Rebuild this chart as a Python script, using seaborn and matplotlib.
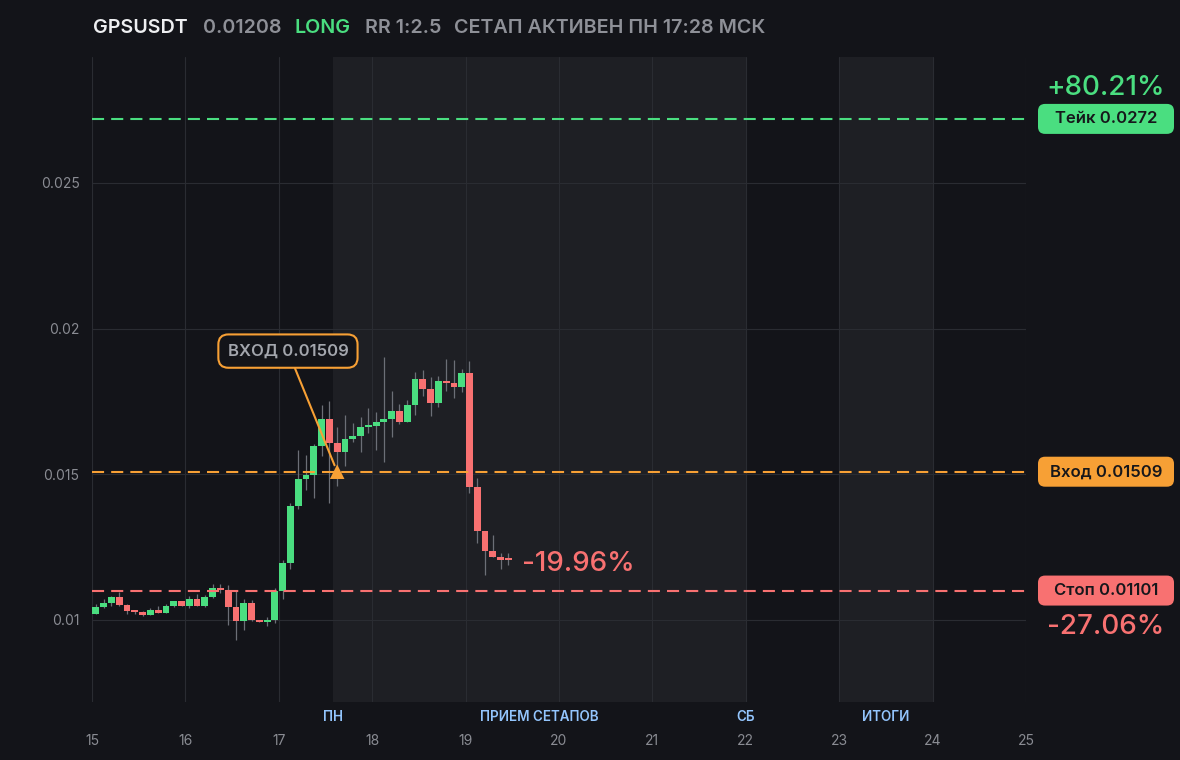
import numpy as np
import pandas as pd
import matplotlib
matplotlib.use("Agg")
import matplotlib.pyplot as plt
import matplotlib.transforms as mtransforms
from matplotlib.patches import FancyBboxPatch
import seaborn as sns

# --- Data ---
TICKER = "GPSUSDT"
LAST_PRICE = "0.01208"
SIDE = "LONG"
RR_TEXT = "RR 1:2.5"
SETUP_NOTE = "СЕТАП АКТИВЕН ПН 17:28 МСК"

START_DAY = 15
CANDLE_DAYS = 1 / 12  # 2h candles

opens = [0.01021, 0.01045, 0.01060, 0.01079, 0.01053, 0.01031, 0.01027, 0.01017, 0.01034, 0.01024,
         0.01048, 0.01065, 0.01048, 0.01072, 0.01048, 0.01079, 0.01110, 0.01103, 0.01045, 0.00997,
         0.01058, 0.01000, 0.00993, 0.01000, 0.01100, 0.01194, 0.01392, 0.01485, 0.01499, 0.01596,
         0.01691, 0.01606, 0.01578, 0.01622, 0.01632, 0.01663, 0.01667, 0.01680, 0.01691, 0.01718,
         0.01681, 0.01738, 0.01828, 0.01794, 0.01745, 0.01820, 0.01814, 0.01800, 0.01848, 0.01458,
         0.01307, 0.01238, 0.01217, 0.01212]
highs = [0.01056, 0.01072, 0.01082, 0.01097, 0.01055, 0.01034, 0.01031, 0.01041, 0.01048, 0.01055,
         0.01065, 0.01065, 0.01082, 0.01089, 0.01086, 0.01124, 0.01124, 0.01120, 0.01103, 0.01072,
         0.01069, 0.01000, 0.01010, 0.01111, 0.01206, 0.01403, 0.01582, 0.01565, 0.01605, 0.01737,
         0.01752, 0.01663, 0.01705, 0.01677, 0.01698, 0.01728, 0.01715, 0.01903, 0.01786, 0.01742,
         0.01755, 0.01851, 0.01858, 0.01834, 0.01838, 0.01896, 0.01893, 0.01862, 0.01889, 0.01489,
         0.01307, 0.01293, 0.01231, 0.01231]
lows = [0.01021, 0.01042, 0.01049, 0.01049, 0.01022, 0.01020, 0.01012, 0.01017, 0.01024, 0.01024,
        0.01045, 0.01048, 0.01042, 0.01048, 0.01043, 0.01075, 0.01094, 0.00983, 0.00931, 0.00966,
        0.00997, 0.00993, 0.00979, 0.00990, 0.01073, 0.01176, 0.01380, 0.01445, 0.01420, 0.01563,
        0.01403, 0.01461, 0.01530, 0.01610, 0.01575, 0.01643, 0.01582, 0.01543, 0.01628, 0.01673,
        0.01681, 0.01704, 0.01769, 0.01701, 0.01731, 0.01786, 0.01762, 0.01783, 0.01437, 0.01265,
        0.01155, 0.01215, 0.01176, 0.01190]
closes = [0.01045, 0.01060, 0.01079, 0.01053, 0.01031, 0.01027, 0.01017, 0.01034, 0.01024, 0.01048,
          0.01065, 0.01048, 0.01072, 0.01048, 0.01079, 0.01110, 0.01103, 0.01045, 0.00997, 0.01058,
          0.01000, 0.00993, 0.01000, 0.01100, 0.01194, 0.01392, 0.01485, 0.01499, 0.01596, 0.01691,
          0.01606, 0.01578, 0.01622, 0.01632, 0.01663, 0.01667, 0.01680, 0.01691, 0.01718, 0.01681,
          0.01738, 0.01828, 0.01794, 0.01745, 0.01820, 0.01814, 0.01800, 0.01848, 0.01458, 0.01307,
          0.01238, 0.01217, 0.01207, 0.01205]

take_price = 0.0272
entry_price = 0.01509
stop_price = 0.01101
take_label = "Тейк 0.0272"
entry_label = "Вход 0.01509"
stop_label = "Стоп 0.01101"
take_pct = "+80.21%"
stop_pct = "-27.06%"
now_pct = "-19.96%"
entry_note = "ВХОД 0.01509"
entry_time = 17.625

band_spans = [(17.583, 22.0), (23.0, 24.0)]
session_labels = ["ПН", "ПРИЕМ СЕТАПОВ", "СБ", "ИТОГИ"]
session_x = [17.583, 19.79, 22.0, 23.5]

x_ticks = list(range(15, 26))
y_ticks = [0.01, 0.015, 0.02, 0.025]
y_tick_labels = ["0.01", "0.015", "0.02", "0.025"]

# --- Colours ---
BG = "#131419"
BAND = "#1e1f24"
GRID = "#2a2c32"
GREEN = "#4ade80"
RED = "#f87171"
ORANGE = "#f7a035"
GREY = "#8e9097"
TICK = "#8a8c93"
BLUE = "#93c5fd"

sns.set_theme(style="darkgrid", rc={
    "axes.facecolor": BG,
    "figure.facecolor": BG,
    "grid.color": GRID,
    "grid.linewidth": 0.8,
    "xtick.color": TICK,
    "ytick.color": TICK,
})
plt.rcParams["font.family"] = ["Inter", "DejaVu Sans"]

df = pd.DataFrame({"open": opens, "high": highs, "low": lows, "close": closes})
df["time"] = START_DAY + (df.index + 0.5) * CANDLE_DAYS
df["up"] = df["close"] >= df["open"]

W, H = 1180, 760
fig = plt.figure(figsize=(W / 100, H / 100), dpi=100)
ax = fig.add_axes([92 / W, 58 / H, 934 / W, 645 / H])
ax.set_xlim(15, 25)
ax.set_ylim(0.007185, 0.029325)

for a, b in band_spans:
    ax.axvspan(a, b, color=BAND, zorder=0, lw=0)

# wicks and bodies
ax.vlines(df["time"], df["low"], df["high"], color="#6c6f77", lw=0.9, zorder=2)
body_bottom = df[["open", "close"]].min(axis=1)
body_height = (df["close"] - df["open"]).abs().clip(lower=0.00006)
ax.bar(df["time"], body_height, bottom=body_bottom, width=CANDLE_DAYS * 0.88,
       color=np.where(df["up"], GREEN, RED), lw=0, zorder=3)

# levels
dash = (0, (5.8, 3.4))
ax.axhline(take_price, color=GREEN, lw=1.5, ls=dash, zorder=4)
ax.axhline(entry_price, color=ORANGE, lw=1.5, ls=dash, zorder=4)
ax.axhline(stop_price, color=RED, lw=1.5, ls=dash, zorder=4)

# entry marker + callout
sns.scatterplot(x=[entry_time], y=[entry_price], marker="^", s=110, color=ORANGE,
                edgecolor="none", zorder=6, ax=ax, legend=False)
ax.annotate(entry_note, xy=(entry_time, entry_price), xytext=(17.098, 0.01923),
            ha="center", va="center", fontsize=12, fontweight="semibold", color="#a3a6ad",
            bbox=dict(boxstyle="round,pad=0.55,rounding_size=0.6", fc=BG, ec=ORANGE, lw=1.5),
            arrowprops=dict(arrowstyle="-", color=ORANGE, lw=1.5, shrinkA=0, shrinkB=5),
            zorder=7)

# current move vs entry, next to the last candle
ax.annotate(now_pct, xy=(19.60, closes[-1]), xytext=(0, -3), textcoords="offset points",
            color=RED, fontsize=20, fontweight="medium", ha="left", va="center", zorder=7)

# axes cosmetics
ax.set_xticks(x_ticks)
ax.set_xticklabels([str(t) for t in x_ticks])
ax.set_yticks(y_ticks)
ax.set_yticklabels(y_tick_labels)
ax.tick_params(axis="x", length=0, pad=23, labelsize=10, labelcolor=TICK)
ax.tick_params(axis="y", length=0, pad=9, labelsize=10, labelcolor=TICK)
ax.grid(True, color=GRID, lw=0.8)
ax.set_axisbelow(True)
for s in ax.spines.values():
    s.set_visible(False)

blend = mtransforms.blended_transform_factory(ax.transData, ax.transAxes)
for lab, xv in zip(session_labels, session_x):
    ax.text(xv, -0.024, lab, transform=blend, ha="center", va="center",
            color=BLUE, fontsize=9.7, fontweight="semibold", clip_on=False)

# title row
title_parts = [(TICKER, "#eeeff1", 93), (LAST_PRICE, GREY, 203), (SIDE, GREEN, 294),
               (RR_TEXT, GREY, 365), (SETUP_NOTE, GREY, 454)]
for txt, col, px in title_parts:
    fig.text(px / W, 1 - 28 / H, txt, color=col, fontsize=14.2, fontweight="semibold",
             ha="left", va="center")

# right side price tags
to_fig = fig.transFigure.inverted()


def fig_y(price):
    return to_fig.transform(ax.transData.transform((20, price)))[1]


for price, label, col in [(take_price, take_label, GREEN), (entry_price, entry_label, ORANGE),
                          (stop_price, stop_label, RED)]:
    yc = fig_y(price)
    box = FancyBboxPatch((1038 / W, yc - 15 / H), 136 / W, 30 / H,
                         boxstyle="round,pad=0,rounding_size=0.006", mutation_aspect=W / H,
                         transform=fig.transFigure, fc=col, ec="none")
    fig.add_artist(box)
    fig.text(1106 / W, yc, label, color="#16171b", fontsize=12, fontweight="semibold",
             ha="center", va="center")

fig.text(1106 / W, fig_y(take_price) + 31 / H, take_pct, color=GREEN, fontsize=20,
         fontweight="medium", ha="center", va="center")
fig.text(1106 / W, fig_y(stop_price) - 36 / H, stop_pct, color=RED, fontsize=20,
         fontweight="medium", ha="center", va="center")

fig.savefig("out.png", dpi=100, facecolor=BG)
plt.close(fig)
